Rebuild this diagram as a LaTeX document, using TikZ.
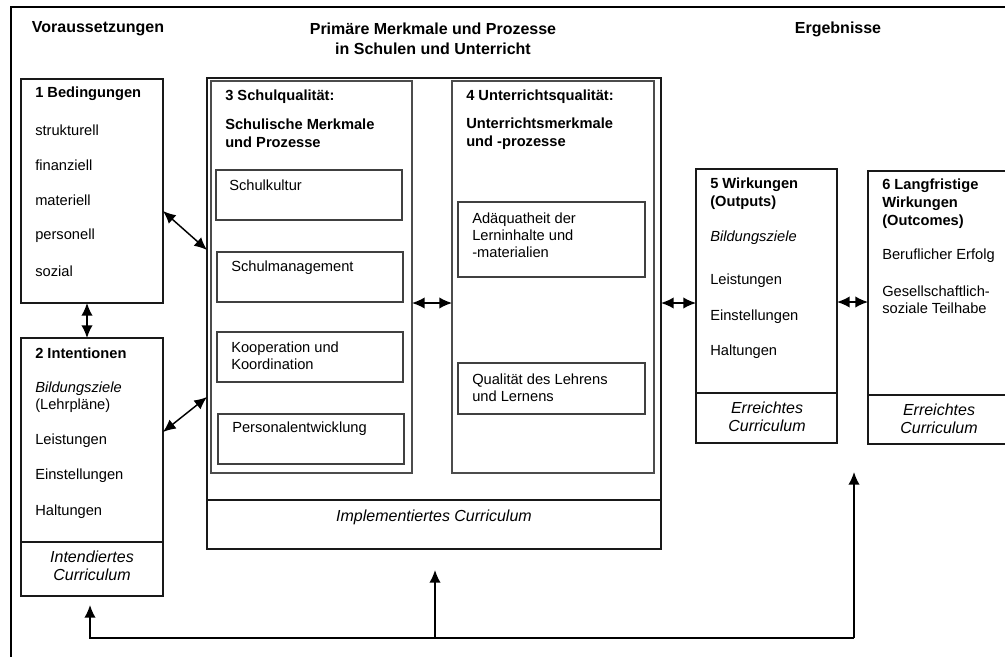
\documentclass[tikz,border=0pt]{standalone}
\usepackage{fontspec}
\setmainfont{Liberation Sans}
\usetikzlibrary{fit,arrows.meta}
\begin{document}
\begin{tikzpicture}[x=0.75pt,y=-0.75pt,
  box/.style={draw=black!90, line width=0.8pt, inner sep=0pt, outer sep=0pt},
  gbox/.style={draw=black!70, line width=1.1pt, inner sep=0pt, outer sep=0pt},
  sbox/.style={draw=black!75, line width=1pt, inner sep=0pt, outer sep=0pt},
  txt/.style={anchor=west, inner sep=0pt, align=left, font=\fontsize{11}{12.75}\selectfont},
  hd/.style={anchor=west, inner sep=0pt, align=left, font=\fontsize{11}{13.5}\selectfont\bfseries},
  ttl/.style={inner sep=0pt, align=center, font=\fontsize{12}{15}\selectfont\bfseries},
  cur/.style={inner sep=0pt, align=center, font=\fontsize{12}{13.5}\selectfont\itshape},
  arr/.style={{Latex[length=9.5pt,width=8.5pt]}-{Latex[length=9.5pt,width=8.5pt]}, line width=1.1pt},
  fb/.style={-{Latex[length=9.5pt,width=8.5pt]}, line width=1.1pt}]
\useasboundingbox (0,0) rectangle (1005,656);
\clip (0,0) rectangle (1005,656);
\draw[line width=0.9pt] (11,7) rectangle (1030,680);

% titles
\node[ttl] (t1) at (98,29) {Voraussetzungen};
\node[ttl] (t2) at (433,39) {Primäre Merkmale und Prozesse\\in Schulen und Unterricht};
\node[ttl] (t3) at (838,29) {Ergebnisse};

% box 1
\node[box, fit={(21,79) (163,303)}] (b1) {};
\node[hd] (b1h) at (35,94) {1 Bedingungen};
\node[txt] (b1a) at (35,130) {strukturell};
\node[txt] (b1b) at (35,165) {finanziell};
\node[txt] (b1c) at (35,200) {materiell};
\node[txt] (b1d) at (35,236) {personell};
\node[txt] (b1e) at (35,271) {sozial};

% box 2
\node[box, fit={(21,338) (163,542)}] (b2) {};
\node[box, fit={(21,542) (163,596)}] (b2c) {};
\node[hd] (b2h) at (35,353) {2 Intentionen};
\node[txt] (b2a) at (35,397) {\textit{Bildungsziele}\\(Lehrpläne)};
\node[txt] (b2b) at (35,441) {Leistungen};
\node[txt] (b2c1) at (35,476) {Einstellungen};
\node[txt] (b2d) at (35,512) {Haltungen};
\node[cur] (b2ct) at (92,566) {Intendiertes\\Curriculum};

% big box
\node[box, fit={(207,78) (661,500)}] (big) {};
\node[box, fit={(207,500) (661,549)}] (bigc) {};
\node[cur] (bigct) at (434,517) {Implementiertes Curriculum};

% box 3
\node[gbox, fit={(211,81) (412,473)}] (b3) {};
\node[hd] (b3h) at (225,97) {3 Schulqualität:};
\node[hd] (b3s) at (225,133) {Schulische Merkmale\\und Prozesse};
\node[sbox, fit={(216,170) (402,220)}] (s1) {};
\node[txt] (s1t) at (229,185) {Schulkultur};
\node[sbox, fit={(217,252) (403,302)}] (s2) {};
\node[txt] (s2t) at (231,268) {Schulmanagement};
\node[sbox, fit={(217,332) (403,382)}] (s3) {};
\node[txt] (s3t) at (231,355.5) {Kooperation und\\Koordination};
\node[sbox, fit={(218,414) (404,464)}] (s4) {};
\node[txt] (s4t) at (232,429) {Personalentwicklung};

% box 4
\node[gbox, fit={(452,81) (654,473)}] (b4) {};
\node[hd] (b4h) at (466,97) {4 Unterrichtsqualität:};
\node[hd] (b4s) at (466,134) {Unterrichtsmerkmale\\und -prozesse};
\node[sbox, fit={(458,202) (645,277)}] (u1) {};
\node[txt] (u1t) at (472,235) {Adäquatheit der\\Lerninhalte und\\-materialien};
\node[sbox, fit={(458,363) (645,414)}] (u2) {};
\node[txt] (u2t) at (472,387.5) {Qualität des Lehrens\\und Lernens};

% box 5
\node[box, fit={(696,169) (837,393)}] (b5) {};
\node[box, fit={(696,393) (837,443)}] (b5c) {};
\node[hd] (b5h) at (710,194) {5 Wirkungen\\(Outputs)};
\node[txt] (b5a) at (710,238) {\textit{Bildungsziele}};
\node[txt] (b5b) at (710,281) {Leistungen};
\node[txt] (b5d) at (710,317) {Einstellungen};
\node[txt] (b5e) at (710,352) {Haltungen};
\node[cur] (b5ct) at (767,416.5) {Erreichtes\\Curriculum};

% box 6
\node[box, fit={(868,171) (1012,395)}] (b6) {};
\node[box, fit={(868,395) (1012,444)}] (b6c) {};
\node[hd] (b6h) at (882,203.5) {6 Langfristige\\Wirkungen\\(Outcomes)};
\node[txt] (b6a) at (882,256) {Beruflicher Erfolg};
\node[txt] (b6b) at (882,299.5) {Gesellschaftlich-\\soziale Teilhabe};
\node[cur] (b6ct) at (939,418.5) {Erreichtes\\Curriculum};

% connectors
\draw[arr] (b1.south -| 87,0) -- (b2.north -| 87,0);
\draw[arr] (b1.east |- 0,211) -- (big.west |- 0,250);
\draw[arr] (b2.east |- 0,432) -- (big.west |- 0,397);
\draw[arr] (b3.east |- 0,303) -- (b4.west |- 0,303);
\draw[arr] (big.east |- 0,303) -- (b5.west |- 0,303);
\draw[arr] (b5.east |- 0,302) -- (b6.west |- 0,302);

% feedback
\coordinate (fbR) at (854,472);
\coordinate (fbB) at (854,638);
\coordinate (fbL) at (90,638);
\coordinate (fbT) at (90,605);
\coordinate (fbM) at (435,638);
\coordinate (fbMT) at (435,570);
\draw[fb] (fbB) -- (fbR);
\draw[fb] (fbB) -- (fbL) -- (fbT);
\draw[fb] (fbM) -- (fbMT);
\end{tikzpicture}
\end{document}
